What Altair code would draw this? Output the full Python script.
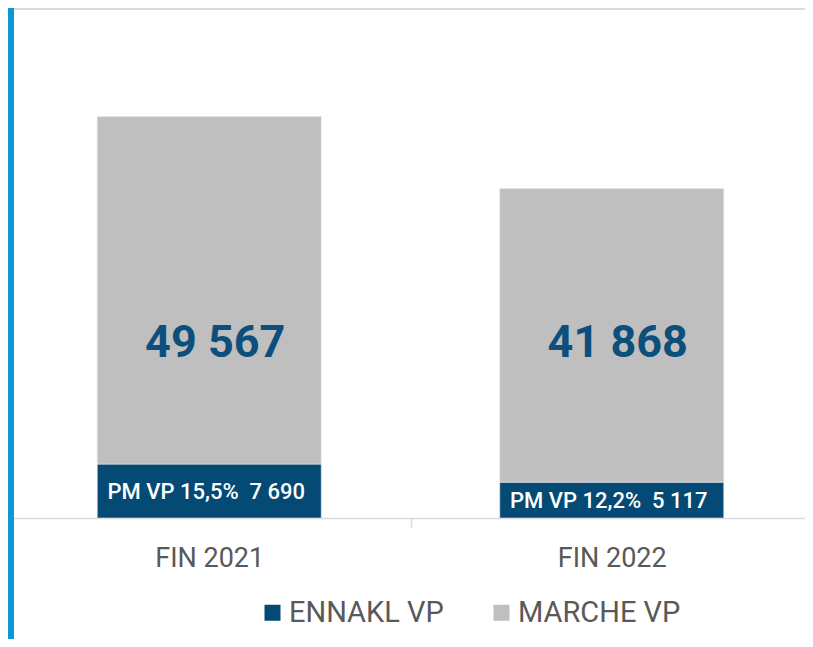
import altair as alt
import pandas as pd

periods = ["FIN 2021", "FIN 2022"]
ennakl_vp = [7690, 5117]
marche_vp = [49567, 41868]
pm_vp_share = ["15,5%", "12,2%"]
series = ["ENNAKL VP", "MARCHE VP"]
colors = ["#044a75", "#bfbfbf"]


def fmt(v):
    return f"{v:,}".replace(",", " ")


rows = []
for p, e, m in zip(periods, ennakl_vp, marche_vp):
    rows.append({"period": p, "series": series[0], "value": e, "ord": 0})
    rows.append({"period": p, "series": series[1], "value": m, "ord": 1})
long_df = pd.DataFrame(rows)

wide_df = pd.DataFrame({
    "period": periods,
    "ennakl": ennakl_vp,
    "marche": marche_vp,
    "big": [fmt(v) for v in marche_vp],
    "small": [f"PM VP {s}\u00a0\u00a0{fmt(v)}" for s, v in zip(pm_vp_share, ennakl_vp)],
})

W, H = 797, 510
XRANGE = 805
FONT = "Roboto"

x_enc = alt.X(
    "period:N",
    sort=periods,
    scale=alt.Scale(paddingInner=0, paddingOuter=0, range=[0, XRANGE]),
    axis=alt.Axis(
        title=None,
        labelAngle=0,
        labelFont=FONT,
        labelFontSize=27,
        labelColor="#595959",
        labelPadding=18,
        tickBand="extent",
        tickSize=9,
        tickColor="#d9d9d9",
        tickWidth=1.5,
        domainColor="#d9d9d9",
        domainWidth=1.5,
        grid=False,
    ),
)
y_scale = alt.Scale(domain=[0, 72750], nice=False, zero=True)

bars = alt.Chart(long_df).mark_bar(
    width=alt.RelativeBandSize(0.5565), stroke="#e8e8e8", strokeWidth=0.6
).encode(
    x=x_enc,
    y=alt.Y("value:Q", stack="zero", scale=y_scale, axis=None),
    color=alt.Color(
        "series:N",
        scale=alt.Scale(domain=series, range=colors),
        legend=alt.Legend(
            title=None,
            orient="none",
            legendX=250,
            legendY=590,
            direction="horizontal",
            symbolType="square",
            symbolSize=256,
            symbolStrokeWidth=0,
            labelFont=FONT,
            labelFontSize=29,
            labelColor="#595959",
            labelOffset=2,
            labelLimit=400,
            columnPadding=43,
            padding=0,
        ),
    ),
    order=alt.Order("ord:Q"),
)

big_text = alt.Chart(wide_df).mark_text(
    dx=6, fontSize=45, fontWeight="bold", font=FONT, color="#0d4f7c", baseline="middle"
).encode(
    x=alt.X("period:N", sort=periods),
    y=alt.datum(25000),
    text="big:N",
)

small_text = alt.Chart(wide_df).transform_calculate(
    mid="datum.ennakl / 2"
).mark_text(
    dx=-3, dy=1, fontSize=22, fontWeight=500, font=FONT, color="white", baseline="middle"
).encode(
    x=alt.X("period:N", sort=periods),
    y=alt.Y("mid:Q"),
    text="small:N",
)

deco = pd.DataFrame({"k": [0]})
top_line = alt.Chart(deco).mark_rule(color="#d9d9d9", strokeWidth=2).encode(
    x=alt.value(0), x2=alt.value(XRANGE), y=alt.value(1)
)
side_bar = alt.Chart(deco).mark_rule(color="#0b98d3", strokeWidth=6).encode(
    x=alt.value(3), y=alt.value(0), y2=alt.value(631)
)

chart = alt.layer(bars, big_text, small_text, top_line, side_bar).properties(
    width=W,
    height=H,
    background="white",
    padding={"left": 0, "top": 0, "right": 0, "bottom": 121},
    autosize=alt.AutoSizeParams(type="none"),
).configure_view(stroke=None)

chart.save("out.html", embed_options={"renderer": "svg", "actions": False})
